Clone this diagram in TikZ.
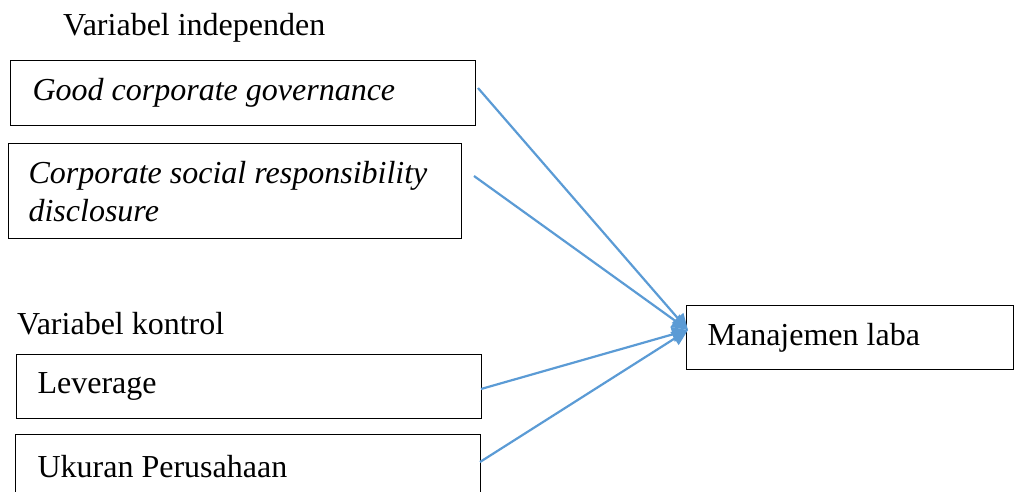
\documentclass[tikz,border=0pt]{standalone}
\usepackage{fontspec}
\setmainfont{Liberation Serif}
\usetikzlibrary{arrows.meta}
\definecolor{arrowblue}{HTML}{5B9BD5}
\newcommand{\normsp}{\spaceskip=0pt\xspaceskip=0pt\relax}
\begin{document}
\begin{tikzpicture}[x=1pt,y=-1pt,
  every node/.style={font=\fontsize{32}{38}\selectfont},
  box/.style={draw=black, line width=1.2pt, rectangle, anchor=north west, align=flush left, inner ysep=0pt},
  lbl/.style={anchor=west, inner sep=0pt},
  conn/.style={draw=arrowblue, line width=2.2pt, -{Triangle[length=16pt,width=15pt]}}
]
\useasboundingbox (0,0) rectangle (1016,491);
\node[lbl] (hi) at (63,28) {Variabel independen};
\node[box, minimum width=465pt, minimum height=65pt, inner xsep=22pt, text width=421pt] (g) at (10,60) {\normsp\itshape Good corporate governance};
\node[box, minimum width=453pt, minimum height=95pt, inner xsep=20pt, text width=413pt] (c) at (8,143) {\normsp\itshape Corporate social responsibility\\\itshape disclosure};
\node[lbl] (hk) at (17,324) {Variabel kontrol};
\node[box, minimum width=465pt, minimum height=64pt, inner xsep=21pt, text width=423pt] (l) at (16,354) {\normsp Leverage};
\node[box, minimum width=465pt, minimum height=64pt, inner xsep=22pt, text width=421pt] (u) at (15,434) {\normsp Ukuran Perusahaan};
\node[box, minimum width=327pt, minimum height=64pt, inner xsep=21pt, text width=285pt] (m) at (686,305) {\normsp Manajemen laba};
\coordinate (t) at (688,330);
\coordinate (gs) at (478,88);
\coordinate (cs) at (474,176);
\coordinate (ls) at (481,389);
\coordinate (us) at (480,462);
\draw[conn] (gs) -- (t);
\draw[conn] (cs) -- (t);
\draw[conn] (ls) -- (t);
\draw[conn] (us) -- (t);
\end{tikzpicture}
\end{document}
